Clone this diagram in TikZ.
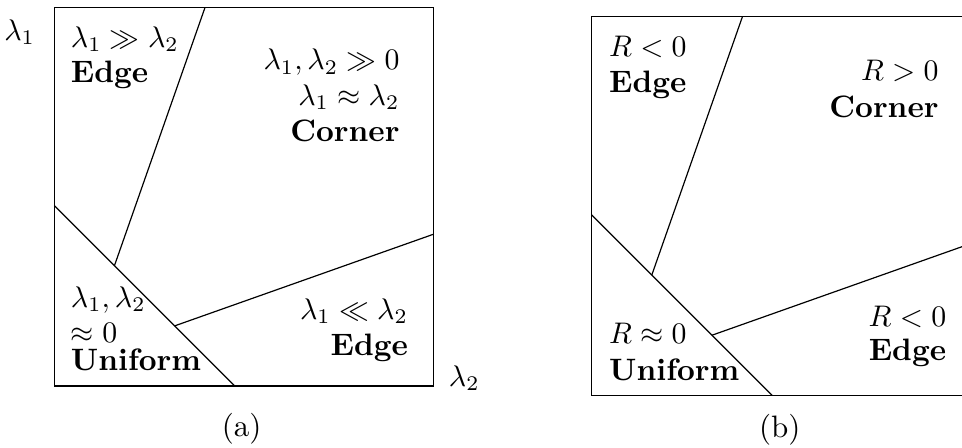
\documentclass[tikz,border=0pt]{standalone}
\begin{document}
\begin{tikzpicture}[every node/.style={inner sep=0pt, font=\fontsize{10.4}{12.5}\selectfont}]
	\clip (-0.64,-0.72) rectangle (10.71,4.555);
	% (a) eigenvalues
	\draw (0,0) rectangle (4.47,4.47);
	\draw (1.78,4.47) -- (0.71,1.42);
	\draw (0,2.13) -- (2.13,0);
	\draw (1.42,0.71) -- (4.47,1.79);
	\node[anchor=base east] (lamy) at (-0.22,4.08) {$\lambda_1$};
	\node[anchor=base west] (lamx) at (4.65,0) {$\lambda_2$};
	\node[anchor=base west] (aEdgeA) at (0.19,4.00) {$\lambda_1 \gg \lambda_2$};
	\node[anchor=base west] (aEdgeB) at (0.19,3.58) {\textbf{Edge}};
	\node[anchor=base east] (aCornerA) at (4.08,3.73) {$\lambda_1, \lambda_2 \gg 0$};
	\node[anchor=base east] (aCornerB) at (4.08,3.31) {$\lambda_1 \approx \lambda_2$};
	\node[anchor=base east] (aCornerC) at (4.08,2.89) {\textbf{Corner}};
	\node[anchor=base west] (aFlatA) at (0.19,0.93) {$\lambda_1, \lambda_2$};
	\node[anchor=base west] (aFlatB) at (0.19,0.52) {$\approx 0$};
	\node[anchor=base west] (aFlatC) at (0.19,0.18) {\textbf{Uniform}};
	\node[anchor=base east] (aSideA) at (4.18,0.79) {$\lambda_1 \ll \lambda_2$};
	\node[anchor=base east] (aSideB) at (4.18,0.36) {\textbf{Edge}};
	\node[anchor=base] (capa) at (2.21,-0.60) {(a)};
	% (b) response
	\begin{scope}[shift={(6.34,-0.11)}]
		\draw (0,0) rectangle (4.47,4.47);
		\draw (1.78,4.47) -- (0.71,1.42);
		\draw (0,2.13) -- (2.13,0);
		\draw (1.42,0.71) -- (4.47,1.79);
		\node[anchor=base west] (bEdgeA) at (0.20,4.00) {$R < 0$};
		\node[anchor=base west] (bEdgeB) at (0.20,3.57) {\textbf{Edge}};
		\node[anchor=base east] (bCornerA) at (4.10,3.72) {$R > 0$};
		\node[anchor=base east] (bCornerB) at (4.10,3.28) {\textbf{Corner}};
		\node[anchor=base west] (bFlatA) at (0.20,0.61) {$R \approx 0$};
		\node[anchor=base west] (bFlatB) at (0.20,0.17) {\textbf{Uniform}};
		\node[anchor=base east] (bSideA) at (4.19,0.81) {$R < 0$};
		\node[anchor=base east] (bSideB) at (4.19,0.41) {\textbf{Edge}};
		\node[anchor=base] (capb) at (2.22,-0.50) {(b)};
	\end{scope}
\end{tikzpicture}
\end{document}
